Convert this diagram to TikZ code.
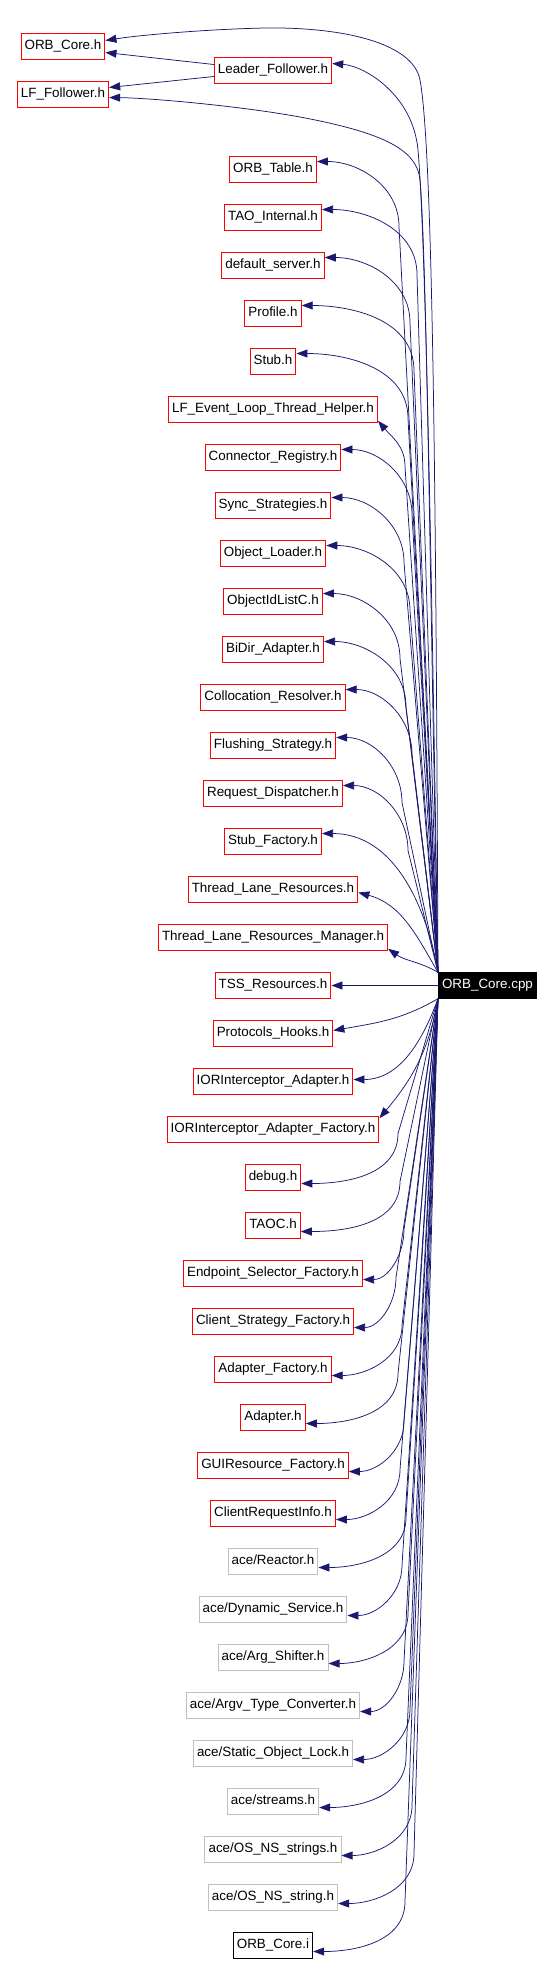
\documentclass[tikz,border=0pt]{standalone}
\usepackage{fontspec}
\setmainfont{Liberation Sans}
\usepackage{xcolor}
\usetikzlibrary{arrows.meta}
\definecolor{edgeblue}{HTML}{191970}
\definecolor{extgrey}{HTML}{BFBFBF}
\tikzset{
  hdr/.style={draw=red,line width=1pt,inner xsep=3.6pt,inner ysep=0pt,minimum height=25.5pt,
    text height=9.6pt,text depth=2.8pt,font=\fontsize{13.4}{16}\selectfont},
  ext/.style={hdr,draw=extgrey},
  inl/.style={hdr,draw=black},
  src/.style={hdr,draw=black,fill=black,text=white},
  dep/.style={draw=edgeblue,line width=0.75pt,-{Triangle[length=11pt,width=8pt]}}
}

\begin{document}
\begin{tikzpicture}[x=1pt,y=1pt]
      \useasboundingbox (0,0) rectangle (555,-1963);

      \node (orbcoreh) at (63,-46.5) [hdr]{ORB\_Core.h};
      \node (lffollower) at (63,-94.5) [hdr]{LF\_Follower.h};
      \node (leaderf) at (273,-70.5) [hdr]{Leader\_Follower.h};

      \node (orbtable) at (273,-169.5) [hdr]{ORB\_Table.h};
      \node (taointernal) at (273,-217.5) [hdr]{TAO\_Internal.h};
      \node (defaultserver) at (273,-265.5) [hdr]{default\_server.h};
      \node (profile) at (273,-313.5) [hdr]{Profile.h};
      \node (stub) at (273,-361.5) [hdr]{Stub.h};
      \node (lfhelper) at (273,-409.5) [hdr]{LF\_Event\_Loop\_Thread\_Helper.h};
      \node (connreg) at (273,-457.5) [hdr]{Connector\_Registry.h};
      \node (syncstrat) at (273,-505.5) [hdr]{Sync\_Strategies.h};
      \node (objloader) at (273,-553.5) [hdr]{Object\_Loader.h};
      \node (oidlist) at (273,-601.5) [hdr]{ObjectIdListC.h};
      \node (bidir) at (273,-649.5) [hdr]{BiDir\_Adapter.h};
      \node (colloc) at (273,-697.5) [hdr]{Collocation\_Resolver.h};
      \node (flushing) at (273,-745.5) [hdr]{Flushing\_Strategy.h};
      \node (reqdisp) at (273,-793.5) [hdr]{Request\_Dispatcher.h};
      \node (stubfactory) at (273,-841.5) [hdr]{Stub\_Factory.h};
      \node (tlr) at (273,-889.5) [hdr]{Thread\_Lane\_Resources.h};
      \node (tlrm) at (273,-937.5) [hdr]{Thread\_Lane\_Resources\_Manager.h};
      \node (tss) at (273,-985.5) [hdr]{TSS\_Resources.h};
      \node (prothooks) at (273,-1033.5) [hdr]{Protocols\_Hooks.h};
      \node (iorad) at (273,-1081.5) [hdr]{IORInterceptor\_Adapter.h};
      \node (iorfac) at (273,-1129.5) [hdr]{IORInterceptor\_Adapter\_Factory.h};
      \node (debug) at (273,-1177.5) [hdr]{debug.h};
      \node (taoc) at (273,-1225.5) [hdr]{TAOC.h};
      \node (epsel) at (273,-1273.5) [hdr]{Endpoint\_Selector\_Factory.h};
      \node (clistrat) at (273,-1321.5) [hdr]{Client\_Strategy\_Factory.h};
      \node (adfac) at (273,-1369.5) [hdr]{Adapter\_Factory.h};
      \node (adapter) at (273,-1417.5) [hdr]{Adapter.h};
      \node (guires) at (273,-1465.5) [hdr]{GUIResource\_Factory.h};
      \node (cri) at (273,-1513.5) [hdr]{ClientRequestInfo.h};
      \node (reactor) at (273,-1561.5) [ext]{ace/Reactor.h};
      \node (dynserv) at (273,-1609.5) [ext]{ace/Dynamic\_Service.h};
      \node (argshift) at (273,-1657.5) [ext]{ace/Arg\_Shifter.h};
      \node (argvconv) at (273,-1705.5) [ext]{ace/Argv\_Type\_Converter.h};
      \node (statlock) at (273,-1753.5) [ext]{ace/Static\_Object\_Lock.h};
      \node (streams) at (273,-1801.5) [ext]{ace/streams.h};
      \node (osstrings) at (273,-1849.5) [ext]{ace/OS\_NS\_strings.h};
      \node (osstring) at (273,-1897.5) [ext]{ace/OS\_NS\_string.h};
      \node (orbcorei) at (273,-1945.5) [inl]{ORB\_Core.i};

      \node (cpp) at (487.5,-985.5) [src]{ORB\_Core.cpp};

      \draw[dep] ([yshift=6pt]leaderf.west) -- ([yshift=-6pt]orbcoreh.east);
      \draw[dep] ([yshift=-6pt]leaderf.west) -- ([yshift=7pt]lffollower.east);

      \draw[dep] (cpp.north west) .. controls (436,-500) and (433,-150) .. (420,-80)
        .. controls (413,-42) and (340,-27) .. (266,-28)
        .. controls (210,-29) and (140,-35) .. ([yshift=6pt]orbcoreh.east);
      \draw[dep] (cpp.north west) .. controls (432,-600) and (426,-240) .. (418,-150)
        .. controls (413,-95) and (365,-66) .. ([yshift=7pt]leaderf.east);
      \draw[dep] (cpp.north west) .. controls (430,-600) and (427,-260) .. (420,-180)
        .. controls (417,-150) and (385,-133) .. (300,-117)
        .. controls (240,-106) and (150,-98) .. ([yshift=-3pt]lffollower.east);

      \draw[dep] (cpp.north west) -- (399,-226.5) to[out=90,in=0] ([yshift=8pt]orbtable.east);
      \draw[dep] (cpp.north west) -- (417,-274.5) to[out=90,in=0] ([yshift=8pt]taointernal.east);
      \draw[dep] (cpp.north west) -- (410,-322.5) to[out=90,in=0] ([yshift=8pt]defaultserver.east);
      \draw[dep] (cpp.north west) -- (414,-370.5) to[out=90,in=0] ([yshift=8pt]profile.east);
      \draw[dep] (cpp.north west) -- (408,-418.5) to[out=90,in=0] ([yshift=8pt]stub.east);
      \draw[dep] (cpp.north west) -- (405,-466.5) to[out=90,in=-50] ([yshift=2pt]lfhelper.south east);
      \draw[dep] (cpp.north west) -- (412,-514.5) to[out=90,in=0] ([yshift=8pt]connreg.east);
      \draw[dep] (cpp.north west) -- (404,-562.5) to[out=90,in=0] ([yshift=8pt]syncstrat.east);
      \draw[dep] (cpp.north west) -- (410,-610.5) to[out=90,in=0] ([yshift=8pt]objloader.east);
      \draw[dep] (cpp.north west) -- (400,-658.5) to[out=90,in=0] ([yshift=8pt]oidlist.east);
      \draw[dep] (cpp.north west) -- (406,-706.5) to[out=90,in=0] ([yshift=8pt]bidir.east);
      \draw[dep] (cpp.north west) -- (412,-754.5) to[out=90,in=0] ([yshift=8pt]colloc.east);
      \draw[dep] (cpp.north west) -- (402,-802.5) to[out=90,in=0] ([yshift=8pt]flushing.east);
      \draw[dep] (cpp.north west) -- (408,-850.5) to[out=90,in=0] ([yshift=8pt]reqdisp.east);
      \draw[dep] (cpp.north west) to[out=100,in=0] ([yshift=8pt]stubfactory.east);
      \draw[dep] (cpp.north west) to[out=120,in=-15] ([yshift=-3pt]tlr.east);
      \draw[dep] (cpp.north west) to[out=150,in=-35] ([yshift=2pt]tlrm.south east);
      \draw[dep] (cpp.west) -- (tss.east);

      \draw[dep] (cpp.south west) to[out=-150,in=10] ([yshift=3pt]prothooks.east);
      \draw[dep] (cpp.south west) to[out=-110,in=0] ([yshift=2pt]iorad.east);
      \draw[dep] (cpp.south west) to[out=-100,in=50] ([yshift=-2pt]iorfac.north east);
      \draw[dep] (cpp.south west) -- (398,-1133.5) to[out=-90,in=0] ([yshift=-6pt]debug.east);
      \draw[dep] (cpp.south west) -- (400,-1181.5) to[out=-90,in=0] ([yshift=-6pt]taoc.east);
      \draw[dep] (cpp.south west) -- (404,-1229.5) to[out=-90,in=0] ([yshift=-6pt]epsel.east);
      \draw[dep] (cpp.south west) -- (396,-1277.5) to[out=-90,in=0] ([yshift=-6pt]clistrat.east);
      \draw[dep] (cpp.south west) -- (402,-1325.5) to[out=-90,in=0] ([yshift=-6pt]adfac.east);
      \draw[dep] (cpp.south west) -- (398,-1373.5) to[out=-90,in=0] ([yshift=-6pt]adapter.east);
      \draw[dep] (cpp.south west) -- (404,-1421.5) to[out=-90,in=0] ([yshift=-6pt]guires.east);
      \draw[dep] (cpp.south west) -- (400,-1469.5) to[out=-90,in=0] ([yshift=-6pt]cri.east);
      \draw[dep] (cpp.south west) -- (406,-1517.5) to[out=-90,in=0] ([yshift=-6pt]reactor.east);
      \draw[dep] (cpp.south west) -- (402,-1565.5) to[out=-90,in=0] ([yshift=-6pt]dynserv.east);
      \draw[dep] (cpp.south west) -- (408,-1613.5) to[out=-90,in=0] ([yshift=-6pt]argshift.east);
      \draw[dep] (cpp.south west) -- (404,-1661.5) to[out=-90,in=0] ([yshift=-6pt]argvconv.east);
      \draw[dep] (cpp.south west) -- (410,-1709.5) to[out=-90,in=0] ([yshift=-6pt]statlock.east);
      \draw[dep] (cpp.south west) -- (406,-1757.5) to[out=-90,in=0] ([yshift=-6pt]streams.east);
      \draw[dep] (cpp.south west) -- (412,-1805.5) to[out=-90,in=0] ([yshift=-6pt]osstrings.east);
      \draw[dep] (cpp.south west) -- (414,-1853.5) to[out=-90,in=0] ([yshift=-6pt]osstring.east);
      \draw[dep] (cpp.south west) -- (405,-1901.5) to[out=-90,in=0] ([yshift=-6pt]orbcorei.east);
    \end{tikzpicture}
\end{document}
